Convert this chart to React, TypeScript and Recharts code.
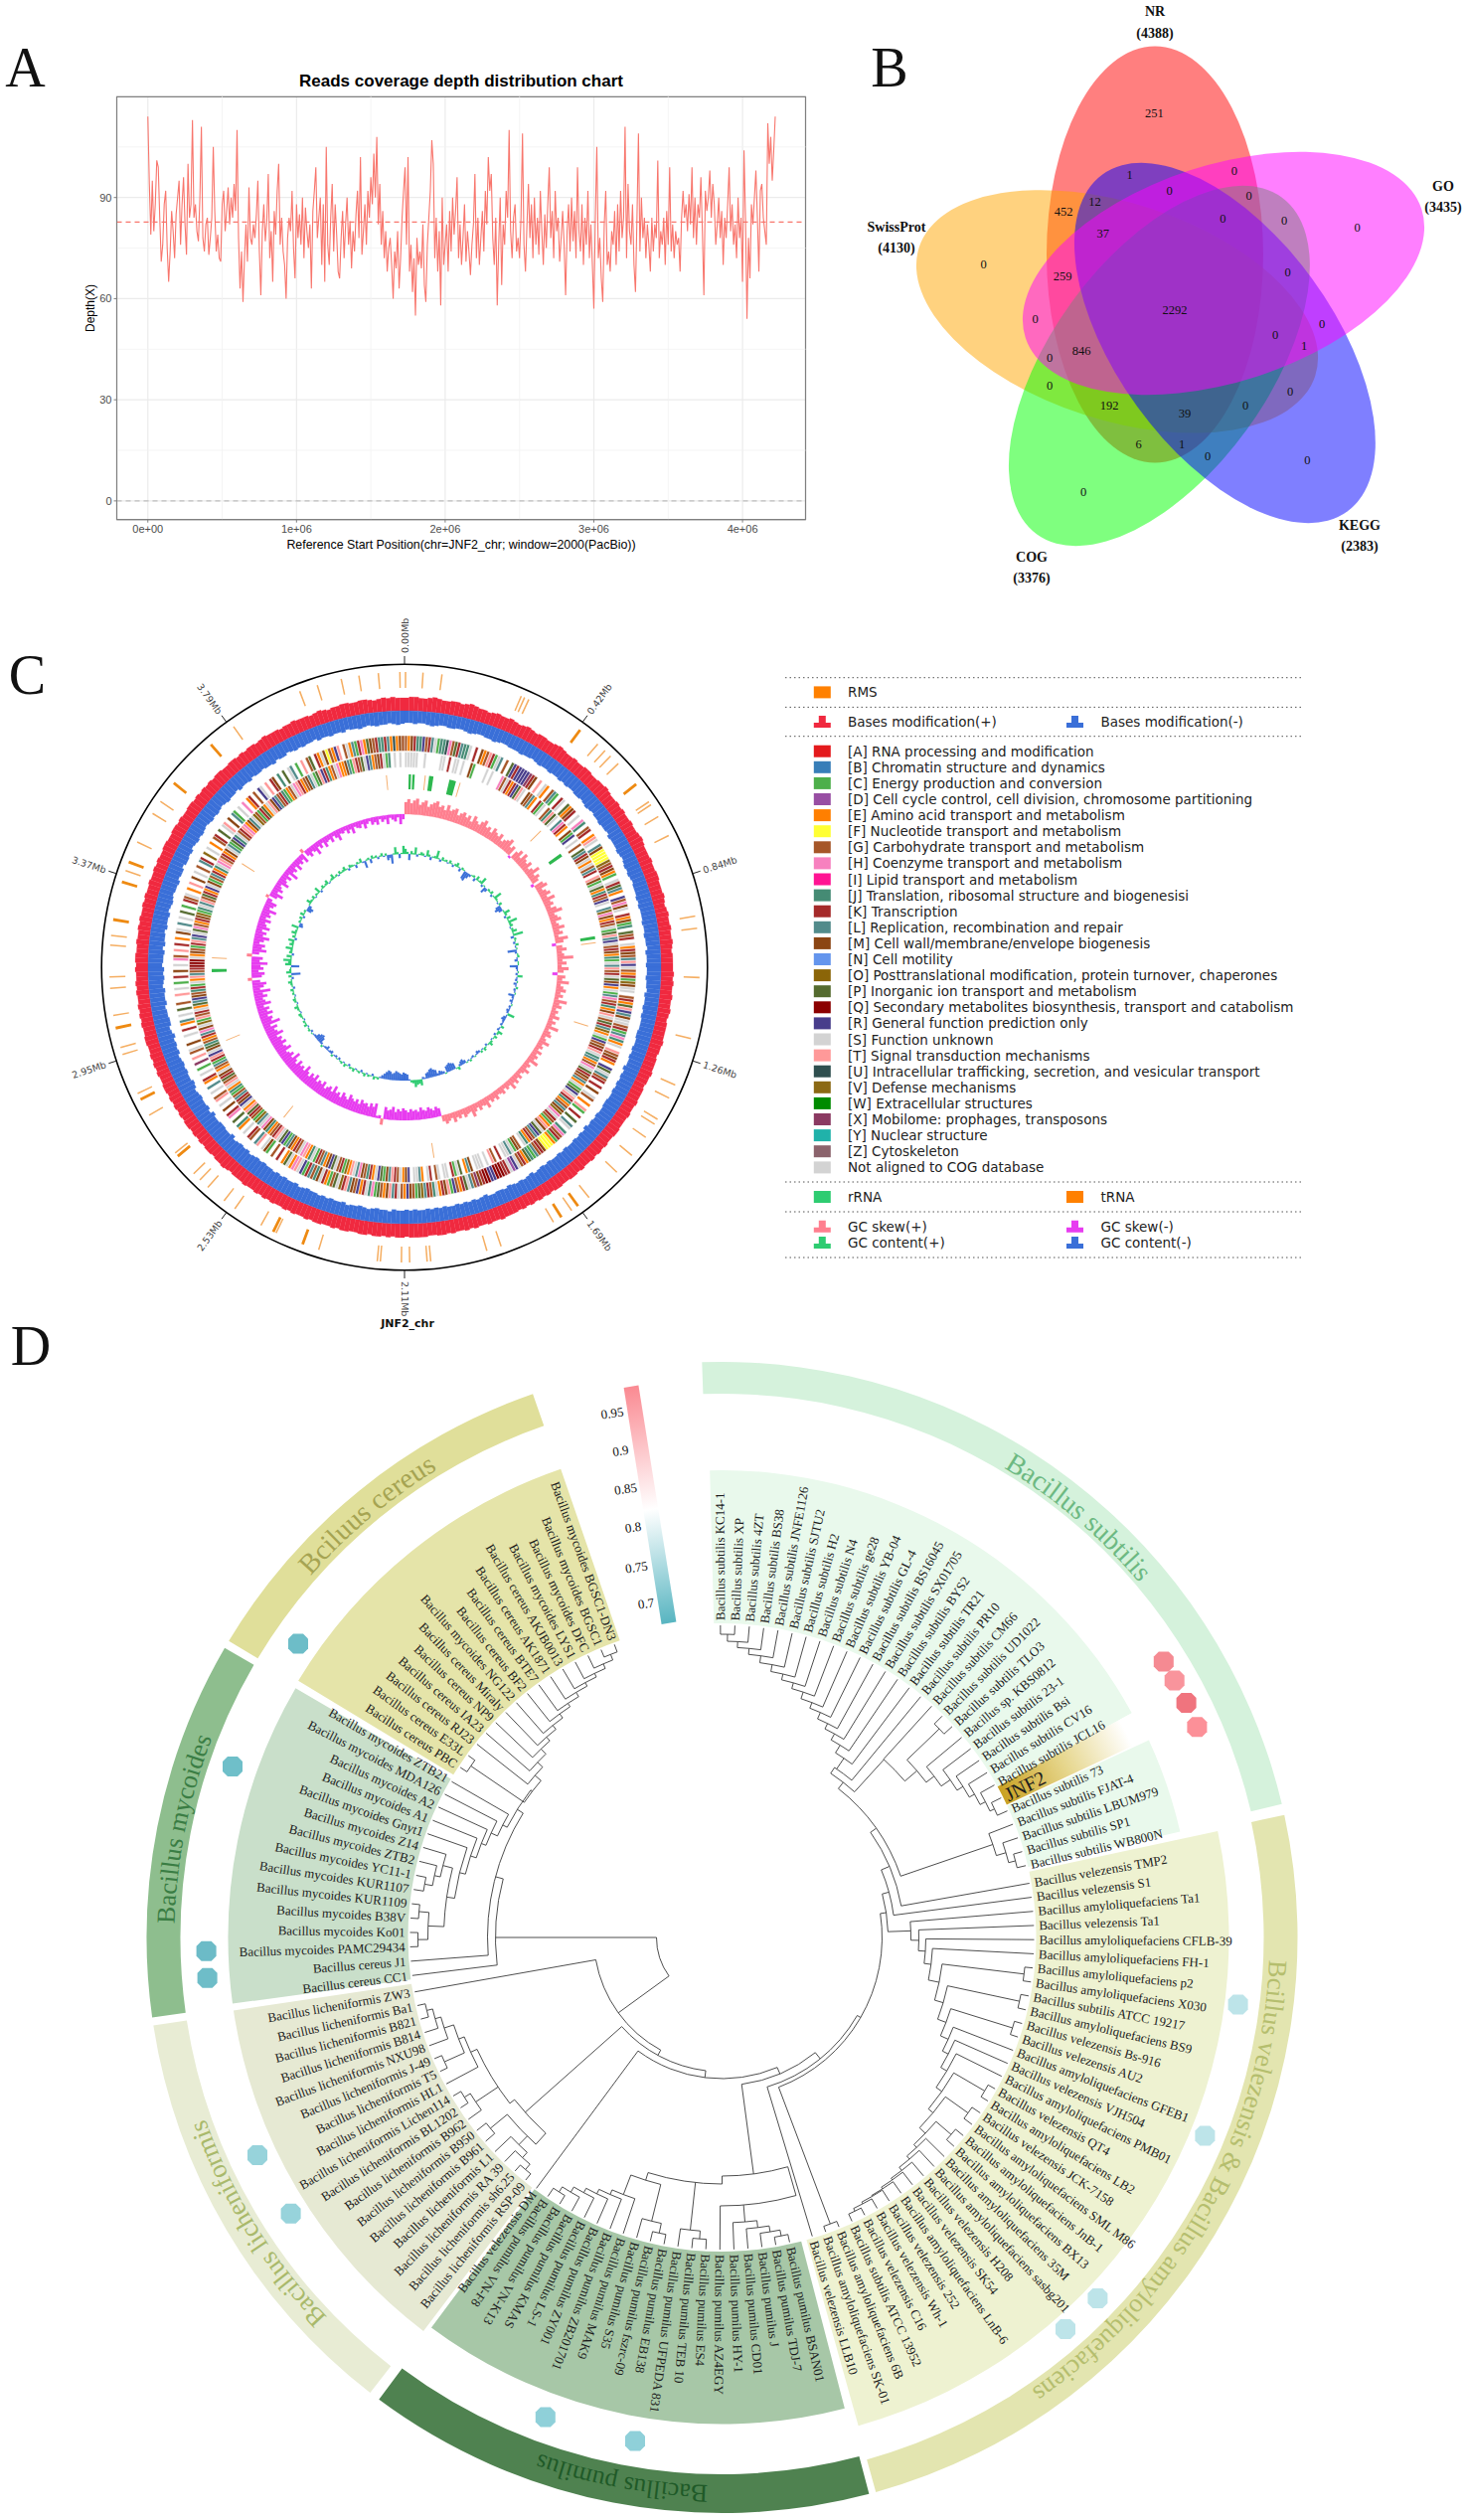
import React from "react";
import {
  CartesianGrid, Line, LineChart, Pie, PieChart, ReferenceArea, ReferenceLine,
  Scatter, ScatterChart, Sector, XAxis, YAxis,
} from "recharts";

const serif = "'Liberation Serif', serif";
const sans = "'Liberation Sans', sans-serif";
const dejavu = "'DejaVu Sans', sans-serif";

// ---------- panel A: depth per 10 kb window ----------
const windowSize = 10000;
const depth = [
  114,94,79,95,80,88,101,99,84,71, 76,88,92,75,65,74,86,80,72,85, 90,95,76,88,96,82,73,100,84,88, 113,84,88,80,77,90,111,78,74,82, 84,73,78,84,105,86,74,79,72,71,
  88,92,80,86,93,82,90,84,94,86, 110,78,63,74,59,72,82,71,93,78, 76,82,78,85,95,74,61,80,88,77, 83,97,72,80,65,86,79,92,100,76, 84,74,70,60,78,84,80,92,75,66,
  88,78,85,76,90,72,87,80,75,82, 63,86,92,99,78,84,90,70,88,65, 105,76,70,84,94,74,88,79,68,66, 78,86,72,82,90,76,83,69,80,74, 85,92,78,102,73,80,88,76,92,84,
  96,88,103,90,108,82,94,76,86,72, 80,68,75,78,70,60,74,69,80,63, 72,84,92,99,76,102,68,76,62,72, 55,78,70,74,69,82,64,59,76,84, 92,107,100,72,84,68,80,58,90,70,
  76,82,68,86,74,90,79,86,96,72, 82,70,78,88,71,80,74,67,76,82, 97,72,84,70,78,86,74,92,82,102, 92,97,78,70,84,58,76,90,64,82, 76,92,84,110,80,72,84,88,74,78,
  72,84,109,76,68,82,94,78,88,72, 90,76,84,73,92,80,70,85,75,88, 99,78,86,72,92,80,84,71,78,86, 76,61,80,88,74,90,77,86,72,99, 80,74,88,70,84,76,92,72,82,70,
  57,84,105,72,78,66,59,82,92,70, 74,68,80,76,86,70,88,74,92,78, 84,111,72,94,80,76,88,70,62,84, 109,74,90,78,84,72,82,76,68,84, 74,82,78,101,72,80,76,84,70,86,
  76,99,74,82,72,80,76,78,68,84, 92,84,88,80,91,82,99,78,90,76, 88,84,96,80,61,92,86,90,98,84, 94,88,76,82,90,78,86,70,84,78, 88,99,80,88,76,82,72,90,78,84,
  65,104,84,54,78,66,88,82,90,98, 84,68,92,94,84,80,76,112,100,108, 95,104,114,
];
const depthRows = depth.map((d, i) => ({ pos: i * windowSize, depth: d }));
const xTicks = [0, 1000000, 2000000, 3000000, 4000000];
const xTickNames = ["0e+00", "1e+06", "2e+06", "3e+06", "4e+06"];
const yTicks = [0, 30, 60, 90];
const xMinor = [500000, 1500000, 2500000, 3500000];
const yMinor = [15, 45, 75, 105];
const meanDepth = 82.7;

// ---------- panel B: five-set venn ----------
const vennNames = ["NR", "SwissProt", "COG", "KEGG", "GO"];
const vennTotals = [4388, 4130, 3376, 2383, 3435];
const vennColors = ["#FF0000", "#FFA500", "#00FF00", "#0000FF", "#FF00FF"];
const vennAngles = [0, -72, -144, 144, 72];
const vennCentres = [[1162, 256], [1124, 313.4], [1166.4, 368], [1232.4, 345], [1231, 275]];
const vennTitlePlaces = [[1162, 11.7], [902, 228], [1038, 560], [1368, 528], [1452, 187.5]];
const vennCounts = [251,1,0,0,0,12,452,37,0,0,0,0,259,0,2292,0,0,0,846,1,0,0,0,192,0,39,6,1,0,0,0];
const vennCountPlaces = [
  [1161.4,113.6],[1136.6,176.3],[1241.9,172],[1176.7,192.2],[1256.7,197.3],[1101.6,202.7],[1070.2,213.2],[1109.8,234.6],
  [1230.3,219.8],[1292.2,222.2],[1365.7,229.2],[989.7,265.8],[1069,278.2],[1295.5,274.3],[1182,311.7],[1041.7,321],
  [1330.2,325.7],[1283.2,337.4],[1088,352.9],[1312,348.2],[1056.2,360],[1056.2,388.3],[1298,394.2],[1116,407.8],
  [1253,408.2],[1192,416],[1145.7,447],[1189,447],[1215,458.8],[1315.3,463],[1090,495.3],
];

// ---------- panel C: genome circle, angles in degrees clockwise from 0.00Mb ----------
const mbTicks = ["0.00Mb","0.42Mb","0.84Mb","1.26Mb","1.69Mb","2.11Mb","2.53Mb","2.95Mb","3.37Mb","3.79Mb"];
const rmsAngles = [0.2,3.6,7.3,23.3,24,24.9,36.5,40.9,42.8,44.3,46.4,51.7,55.9,56.6,59.3,63.5,80,82.4,92,104,113.5,116.3,121,122.1,125.2,129.6,134,141.3,144,145.5,147.9,149.7,160.9,163.8,174.9,175.6,179,180.6,184.7,185.3,196.9,200.2,205.8,206.4,209.1,215.1,217.7,221.8,223.9,225.6,230.2,231,239.9,243.4,244.7,252.8,254.2,258.1,260.6,265.9,268.1,274.3,276.2,279.3,286.8,289.1,290.9,295.1,301.4,304.2,308.6,319,324.6,339.2,342.8,347.6,351.1,354.9,359.1];
const rmsBold = [36.5,51.7,56.1,144,147.9,200.2,206.4,230.2,243.4,258.1,279.3,286.8,290.9,308.6,319];
const rrnaAngles = [1.6,2.7,8,14.5,54.4,81.2,269];
const rrnaWidths = [0.7,0.7,1.3,2,1,0.9,0.9];
const trnaAngles = [6.2,16.8,45,82.7,107.8,171.2,218.8,247.7,272.8,302.5,354.6];

const basesPlus = [
  13,14,14,13,13,14,15,14,13,13,14,14,13,14,15,14,13,13,12,13,14,13,13,14,13,12,13,14,13,12,13,13,12,12,13,14,
  13,12,12,13,12,12,13,13,12,12,13,13,14,13,12,12,13,12,13,12,12,13,12,12,13,14,13,12,12,12,13,12,12,13,13,12,
  12,12,13,12,11,12,13,12,12,13,12,12,13,12,11,12,12,12,12,13,12,13,12,12,13,12,12,13,12,11,12,12,12,12,13,12,
  12,11,12,12,12,13,12,12,11,12,12,12,13,12,12,13,12,12,12,13,13,12,12,13,12,13,12,13,12,12,13,12,13,13,12,12,
  13,13,12,13,12,13,12,13,12,13,12,13,13,13,14,13,13,14,13,13,14,13,14,13,13,14,13,14,14,13,13,14,14,14,14,13,
  14,14,13,14,13,14,14,13,14,14,13,13,14,14,13,14,13,13,14,14,13,14,13,13,14,13,14,13,13,14,13,14,13,14,13,13,
  14,13,13,13,12,13,14,13,13,12,13,13,12,13,12,13,12,13,13,12,13,12,13,12,13,12,13,13,12,12,13,12,13,12,13,12,
  12,13,13,12,12,13,12,13,12,13,12,12,13,12,13,12,12,13,12,13,13,12,12,13,12,12,13,12,13,12,12,13,12,13,12,12,
  13,12,12,13,12,13,12,12,13,13,12,12,13,13,12,13,12,12,13,13,12,13,12,13,12,13,12,13,13,12,12,13,13,12,13,12,
  13,13,12,13,14,13,13,13,12,13,13,14,13,13,13,12,13,14,13,12,13,13,14,14,13,13,14,14,13,12,13,14,13,14,13,13,
];
const basesMinus = [
  12,12,13,12,12,13,14,13,12,12,13,13,12,12,13,14,13,12,12,13,13,14,13,12,12,13,13,13,14,13,13,12,13,14,13,13,
  14,13,13,14,13,14,13,13,14,14,13,14,15,14,13,14,14,15,14,14,13,15,14,14,14,15,14,13,14,15,14,15,14,13,14,14,
  14,15,14,15,14,14,14,15,14,14,15,14,14,13,15,14,14,15,14,14,15,14,14,13,15,14,14,15,14,15,14,14,14,15,15,14,
  14,15,14,15,14,14,16,14,15,14,15,14,15,14,14,15,15,14,14,15,14,15,14,16,14,15,14,15,14,14,15,14,15,14,14,15,
  14,15,14,13,15,14,13,14,13,14,15,13,14,14,13,13,15,14,13,14,13,14,13,14,13,13,14,13,14,13,14,13,13,14,13,14,
  13,13,14,12,13,13,14,13,12,13,14,13,13,12,14,13,13,14,13,14,13,14,14,15,14,13,15,14,14,15,14,15,14,15,15,16,
  15,16,15,14,16,15,16,15,14,17,15,15,16,16,15,15,17,14,16,15,15,16,15,14,16,17,15,15,16,15,16,15,14,16,15,16,
  15,17,15,14,16,16,15,15,14,16,15,15,16,14,15,16,15,16,14,15,15,16,14,16,15,15,14,16,15,15,16,14,15,16,15,14,
  15,15,16,14,15,15,13,15,15,14,15,13,14,15,14,15,14,13,14,15,14,15,14,13,14,15,14,14,13,15,14,14,15,13,14,14,
  13,14,14,15,13,14,14,12,13,14,13,14,13,13,12,14,13,13,14,13,13,14,12,13,13,14,13,12,13,14,13,13,12,13,14,13,
];
const gcSkew = [
  12,15,11,14,16,10,13,15,9,12,14,16,11,13,9,15,10,12,14,8,11,13,9,12,7,14,10,8,12,15,9,11,7,13,10,8,
  12,6,9,11,14,7,10,-2,8,12,6,13,9,7,11,5,8,14,6,10,7,-3,9,12,5,8,11,6,13,7,9,5,10,15,6,8,
  11,5,7,12,6,9,4,13,8,-4,6,10,5,7,16,5,9,4,11,6,-5,8,5,12,4,7,10,5,8,4,13,6,9,4,7,5,
  10,4,8,5,13,4,7,9,4,6,11,5,7,4,9,5,8,6,12,4,7,5,10,6,4,8,5,9,6,11,5,7,4,8,6,5,
  9,6,8,5,11,7,6,9,5,8,12,6,7,9,5,8,6,10,5,7,9,6,
  -8,-10,-7,-9,-11,-8,-9,-12,-8,-10,-9,-11,-8,-10,
  -12,-9,-11,-8,-13,-10,-9,-12,6,-3,-2,-14,-10,-13,-9,-12,-11,-14,-9,-13,-10,-12,-15,-9,-11,-14,-8,-12,-10,-16,-9,-13,-11,-8,-14,-10,
  -12,-9,-15,-10,-13,-8,-11,-16,-9,-12,-10,-14,-8,-11,-17,-9,-13,-10,-8,-15,-11,-9,-14,-10,-12,-8,-16,-11,-9,-13,-7,-18,-10,-12,-8,-14,
  -9,-12,-7,-15,-10,-8,-13,-9,-17,-7,-11,-14,-8,4,-10,-13,-7,-12,-9,-16,-8,-11,5,-7,-14,-9,-12,-6,-10,-15,-8,-11,-6,-13,-9,-7,
  -12,-6,-10,-8,-14,-6,-9,-11,-5,3,-8,-13,-6,-10,-7,-5,-12,-8,-6,-10,-5,-14,-7,-9,-5,-11,-6,-8,-5,-10,4,-6,-9,-5,-7,-12,
  -5,-8,-4,-10,-6,-5,-9,-4,-7,-11,-5,-6,-4,-8,-5,-10,-4,-6,-7,-4,-9,-5,-3,-7,-5,-8,-3,-6,-4,-9,-3,-5,-7,-3,-10,-5,
];
const gcContent = [
  5,2,-6,3,1,7,-2,1,3,2,-1,6,2,-3,1,2,8,1,-2,3,1,2,-1,3,1,-2,2,4,1,-3,2,1,-8,-9,-5,-2,
  1,2,-3,4,1,2,7,-2,1,-6,-3,2,1,3,-2,1,8,2,1,-1,3,-5,-7,-4,1,6,2,-2,4,1,9,2,3,-1,2,5,
  1,10,-3,2,1,-2,3,-1,1,-9,-2,1,2,-1,-3,1,1,-8,-2,-1,1,-2,5,-1,-2,1,-3,-1,2,-2,-1,1,-6,-2,-1,-3,
  -1,1,-2,-1,-3,-2,7,-1,-3,-4,-2,-1,-2,3,-1,-2,5,2,-2,3,1,-1,2,4,1,-2,1,3,-1,2,-2,-3,-1,1,-2,-1,
  2,-1,1,-3,-5,-4,-2,3,1,-6,-7,-8,-7,-6,1,-2,-3,-4,-2,-6,-7,-9,-8,-6,-5,-1,-2,6,4,5,7,3,2,-1,-6,-7,
  -8,-6,-7,-8,-9,-7,-6,-8,-9,-7,-5,-3,-1,2,1,3,-2,1,2,-1,3,1,-2,2,1,-1,3,1,2,-2,1,3,-1,2,1,-2,
  1,-2,-1,2,-3,-2,-1,-4,-2,-1,2,-2,-6,-8,-7,-5,-2,-1,1,-2,2,1,-1,3,1,2,-1,1,2,3,-1,1,2,4,1,-1,
  2,3,1,-1,2,1,3,-2,1,2,4,1,-2,3,-9,5,2,1,-8,6,3,8,1,5,-2,3,2,7,1,4,2,6,-2,3,1,5,
  2,1,7,-4,-3,2,1,3,-2,4,1,2,-5,-6,-3,1,5,2,1,3,-1,2,1,6,-2,1,3,1,2,4,-1,1,2,5,1,2,
  -1,3,1,2,4,1,-2,3,2,1,-3,2,1,4,-1,-7,1,2,-4,3,1,2,-2,1,3,-1,2,-5,-3,-9,1,7,2,-4,1,8,
];
// one letter per gene slot, "." = no gene on this strand
const cogForward =
  "GEMKJJRGKLSCJJUHGPKLJJS.K.MEGTKCSL.G.PRK" + "RRRRXKM.T.SE.GLC.KS.PEMK.S.HJ.GK.ETS.LMFF" +
  "FFVGKMEC.SKPLE.RGHMS.KEMCJ.PGK.SEKMGLTRS" + "GEKCVMSS.GKEPTRLMSSGKCLHJES.TGMKE.RPSLGK" +
  ".K.M.SG.E.TC.K.P.LS.JHGKCEFFFMKGLCJPEKGS" + "RDSKKQQQRRQQKMXGLSPKEGRCTMKESJGKLVPCGMRE" +
  "GSKLTMEGPCHJSKERGMLTKVSPGCEKSMJGLKCRSTHE" + "SPE.K.G.CMS.TL.GK.S.EJ.P.HK.M.S.TG.S.L.E" +
  "K.S.C.X.T.GS.M..S.K.EL.S.P.G..T.S.C.K.M." + "S.HG.T.K.E.MS.L.S.P.C.KGS.E.T.M.S.G.LK.V" +
  ".S.E.GK.P.ST.M.LC.S.H.EK.G.RS.T.KM.J.P.S" + "L.C.T.GP.KESMFGERT.GSELCKHEPMGKJJKLEUEMG";
const cogReverse =
  "SSSSS..S.....SS.K.SS.S..MC....S.S...HGSK" + "EKRPTS.MGLE.KCS.GJTPS.LHKE.MCR.S.G.PLKMS" +
  "ESGLK.TMCSPEJKGRS.LVHMEKGSCPTLRSGKMEJCSL" + "TGKSPMRESCLHGKJEMTSGPKLVESCRGMKTSJLEGHSP" +
  "KMGLESCPRSTKJEGLMVHSKGCETMSPRLGKEJS.GMCS" + "LSS.K.GT.S.SSS.MLE.PSCK.SS.SG.KS.ELSS.RM" +
  "ESGKTLMCPRSEKJGMHLSTEVCKGSPRMELGKCSJETHS" + "GKEMLCRPSTKGEJMHSLVCGKPTESRMKLGCJESTGPKM" +
  "SEGLCKTRSMPJGEKLHMSVCTGKSEPLRMGJKCSETLGK" + "QQQSEMGCKTLRSPHGEKMVCJSLTGPKERSMCGLKEJSH" +
  "TGKEMSLCPRJSGKTHEMLSVGCKPESTMRLGKJCEGSHT" + "KEGMLSCPTRKJEGSHEEMLCTKGPSRLEGMKSCJ.S.S.";

const cogLetters = "ABCDEFGHIJKLMNOPQRSTUVWXYZ".split("");
const cogColors = ["#E41A1C","#377EB8","#4DAF4A","#984EA3","#FF7F00","#FFFF33","#A65628","#F781BF","#FF1493","#458B74","#A52A2A","#528B8B","#8B4513","#6495ED","#8B6508","#556B2F","#8B0000","#483D8B","#D3D3D3","#FF9999","#2F4F4F","#8B6914","#008B00","#8B3A62","#20B2AA","#8B636C"];
const cogTerms = [
  "RNA processing and modification","Chromatin structure and dynamics","Energy production and conversion",
  "Cell cycle control, cell division, chromosome partitioning","Amino acid transport and metabolism",
  "Nucleotide transport and metabolism","Carbohydrate transport and metabolism","Coenzyme transport and metabolism",
  "Lipid transport and metabolism","Translation, ribosomal structure and biogenesisi","Transcription",
  "Replication, recombination and repair","Cell wall/membrane/envelope biogenesis","Cell motility",
  "Posttranslational modification, protein turnover, chaperones","Inorganic ion transport and metabolism",
  "Secondary metabolites biosynthesis, transport and catabolism","General function prediction only","Function unknown",
  "Signal transduction mechanisms","Intracellular trafficking, secretion, and vesicular transport","Defense mechanisms",
  "Extracellular structures","Mobilome: prophages, transposons","Nuclear structure","Cytoskeleton",
];

// ---------- panel D: phylogeny, leaves clockwise from the top ----------
const subtilisLeaves = ["Bacillus subtilis KC14-1","Bacillus subtilis XP","Bacillus subtilis 4ZT","Bacillus subtilis BS38","Bacillus subtilis JNFE1126","Bacillus subtilis SJTU2","Bacillus subtilis H2","Bacillus subtilis N4","Bacillus subtilis ge28","Bacillus subtilis YB-04","Bacillus subtilis GL-4","Bacillus subtilis BS16045","Bacillus subtilis SX01705","Bacillus subtilis BYS2","Bacillus subtilis TR21","Bacillus subtilis PR10","Bacillus subtilis CM66","Bacillus subtilis UD1022","Bacillus subtilis TLO3","Bacillus sp. KBS0812","Bacillus subtilis 23-1","Bacillus subtilis Bsi","Bacillus subtilis CV16","Bacillus subtilis JCL16","JNF2","Bacillus subtilis 73","Bacillus subtilis FJAT-4","Bacillus subtilis LBUM979","Bacillus subtilis SP1","Bacillus subtilis WB800N"];
const velezensisLeaves = ["Bacillus velezensis TMP2","Bacillus velezensis S1","Bacillus amyloliquefaciens Ta1","Bacillus velezensis Ta1","Bacillus amyloliquefaciens CFLB-39","Bacillus amyloliquefaciens FH-1","Bacillus amyloliquefaciens p2","Bacillus amyloliquefaciens X030","Bacillus subtilis ATCC 19217","Bacillus amyloliquefaciens BS9","Bacillus velezensis Bs-916","Bacillus velezensis AU2","Bacillus amyloliquefaciens GFEB1","Bacillus velezensis VJH504","Bacillus amyloliquefaciens PMB01","Bacillus velezensis QT4","Bacillus amyloliquefaciens LB2","Bacillus velezensis JCK-7158","Bacillus amyloliquefaciens SML M86","Bacillus amyloliquefaciens JnB-1","Bacillus amyloliquefaciens BX13","Bacillus amyloliquefaciens 35M","Bacillus amyloliquefaciens sasbg201","Bacillus velezensis H208","Bacillus velezensis SK54","Bacillus amyloliquefaciens LnB-6","Bacillus velezensis 252","Bacillus velezensis Wh-1","Bacillus velezensis C16","Bacillus subtilis ATCC 13952","Bacillus amyloliquefaciens 6B","Bacillus amyloliquefaciens SK-01","Bacillus velezensis LLB10"];
const pumilusLeaves = ["Bacillus pumilus BSAN01","Bacillus pumilus TDJ-7","Bacillus pumilus J","Bacillus pumilus CD01","Bacillus pumilus HY-1","Bacillus pumilus AZ4EGY","Bacillus pumilus ES4","Bacillus pumilus TEB 10","Bacillus pumilus UFPEDA 831","Bacillus pumilus EB138","Bacillus pumilus fszrc-09","Bacillus pumilus S35","Bacillus pumilus MAK9","Bacillus pumilus ZB201701","Bacillus pumilus ZY001","Bacillus pumilus LS-1","Bacillus pumilus KMAS","Bacillus pumilus VN-K13","Bacillus pumilus VN-F8","Bacillus velezensis DM"];
const licheniformisLeaves = ["Bacillus licheniformis RSP-09","Bacillus licheniformis sh6.25","Bacillus licheniformis RA 39","Bacillus licheniformis L1","Bacillus licheniformis B961","Bacillus licheniformis B950","Bacillus licheniformis B962","Bacillus licheniformis BL1202","Bacillus licheniformis Lichen114","Bacillus licheniformis HL1","Bacillus licheniformis T5","Bacillus licheniformis J-49","Bacillus licheniformis NXU98","Bacillus licheniformis B814","Bacillus licheniformis B821","Bacillus licheniformis Ba1","Bacillus licheniformis ZW3"];
const mycoidesLeaves = ["Bacillus cereus CC1","Bacillus cereus J1","Bacillus mycoides PAMC29434","Bacillus mycoides Ko01","Bacillus mycoides B38V","Bacillus mycoides KUR1109","Bacillus mycoides KUR1107","Bacillus mycoides YC11-1","Bacillus mycoides ZTB2","Bacillus mycoides Z14","Bacillus mycoides Gnyt1","Bacillus mycoides A1","Bacillus mycoides A2","Bacillus mycoides MDA126","Bacillus mycoides ZTB21"];
const cereusLeaves = ["Bacillus cereus PBC","Bacillus cereus E33L","Bacillus cereus RJ23","Bacillus cereus IA23","Bacillus cereus NP9","Bacillus cereus Miraly","Bacillus mycoides NG122","Bacillus cereus BF2","Bacillus cereus BTE7","Bacillus cereus AK1871","Bacillus cereus AKJB0013","Bacillus mycoides LYS1","Bacillus mycoides DFC","Bacillus mycoides BGSC1","Bacillus mycoides BGSC1-DN3"];
const leafGroups = [subtilisLeaves, velezensisLeaves, pumilusLeaves, licheniformisLeaves, mycoidesLeaves, cereusLeaves];
const leafFirstAngle = [-0.3, 80, 167.5, 219, 263, 303];
const leafStep = [2.655, 2.6, 2.58, 2.56, 2.64, 2.63];

const ringNames = ["Bacillus subtilis","Bcillus velezensis & Bacillus amyloliquefaciens","Bacillus pumilus","Bacillus licheniformis","Bacillus mycoides","Bciluus cereus"];
const ringStart = [-2, 77.7, 165.2, 217.7, 262, 301];
const ringEnd = [76.6, 164.5, 216.6, 261.2, 300.2, 340.8];
const ringLabelAngle = [40.3, 119, 190.5, 238.4, 281.4, 320];
const ringFontSize = [28, 26.5, 25.7, 26.6, 26, 28.5];
const ringColors = ["#D5F2DC","#E3E5B0","#4F8250","#E8ECD4","#8EBE8E","#E0DF9A"];
const ringTextColors = ["#6DB982","#B5BE6E","#1F5A28","#A9B96B","#3A7D44","#A6A452"];

// clades as first leaf, last leaf, node radius, and node angle where the drawing sets it off-centre
const clades = [
  [0,1,305],[0,2,298],[0,3,292],[0,4,286],[0,5,279],[0,6,272],[0,7,266],[0,8,260],[0,9,253],[0,10,247],[0,11,240],[0,12,234],[0,13,227],[0,14,218],[0,15,205,33.5],
  [24,25,303],[23,25,298],[22,25,292],[21,25,286],[20,25,279],[19,25,268],[17,18,303],[17,25,258],[16,25,242,42.3],[0,25,198,38],[28,29,305],[27,29,298],[26,29,288],
  [0,29,190,54.7],[0,30,183,67],[0,31,174,74.8],
  [58,59,306],[57,59,303],[56,59,301],[55,59,300],[54,59,298],[53,59,296],[52,59,292],[51,59,288],[49,50,304],[49,59,284],[47,48,304],[47,59,276],[45,46,306],[45,59,270],[44,59,263],[43,59,256],[42,59,249.5],[40,41,306],[40,59,241],[38,39,306],[38,59,232],[36,37,306],[36,59,223],[35,59,212],[34,59,205],[33,59,198],[32,59,190,88],
  [0,59,167,81.4],[60,61,308],[0,61,161,120],[0,62,157,141],
  [63,64,306],[63,65,300],[63,66,294],[63,67,287],[63,68,270,164],[69,70,304],[69,71,296],[72,73,304],[72,74,294],[80,81,304],[79,81,298],[78,81,292],[77,81,287],[76,81,282],[75,81,277],[72,81,256],[69,81,248,180],[63,81,240,172.4],
  [0,81,149,157],[0,82,142,187],
  [97,98,306],[96,98,300],[95,98,294],[93,94,306],[93,98,284],[92,98,278],[90,91,305],[89,91,298],[89,98,271,232],[83,84,306],[83,85,299],[83,86,292],[87,88,302],[83,88,280,222],[83,98,265,228.4],
  [0,98,135,208.6],[0,99,129,234],
  [102,103,306],[104,105,306],[102,105,296],[106,107,304],[106,108,296],[106,109,290],[102,109,280],[102,110,272],[102,111,266],[102,112,260],[102,113,255],[102,114,248],
  [115,116,306],[128,129,306],[127,129,300],[126,129,295],[125,129,291],[124,129,287],[123,129,282],[122,129,278],[121,129,273],[120,129,268],[119,129,263],[118,129,256],[117,129,249],[115,129,241],
  [102,129,243,302],[101,129,236,285],[100,129,228,270],[0,129,66],
];

const markerPlaces = [[1170.8,1671.4],[1181.7,1690.6],[1193.6,1713],[1204.4,1737.2],[300,1653.4],[234,1777],[207.6,1962.8],[208.6,1989.8],[259,2168],[292.6,2226.7],[548.8,2431.5],[639,2455.5],[1245.6,2016.4],[1212.4,2148.4],[1104.4,2312],[1072,2343]];
const markerColors = ["#F58A92","#F9949C","#F0747E","#FC9098","#6DBDC8","#6FBFC9","#6CBBC7","#6EBDC8","#97D3DB","#97D3DB","#8FD0D9","#8FD0D9","#BDE4E9","#BDE4E9","#BDE4E9","#BDE4E9"];
const scaleLabels = ["0.95","0.9","0.85","0.8","0.75","0.7"];
const scalePlaces = [[616,1421.5],[624.3,1459.4],[629.5,1497.7],[637,1536.3],[640.4,1576.5],[650,1613]];

// ---------- layout helpers ----------
const treeX = 726.5;
const treeY = 1949;
const polar = (deg: number, r: number) => {
  const a = (deg * Math.PI) / 180;
  return [treeX + r * Math.sin(a), treeY - r * Math.cos(a)];
};
const leafRows = leafGroups.flatMap((names, g) =>
  names.map((name, k) => ({ name, group: g, angle: leafFirstAngle[g] + k * leafStep[g] })));

// slices that put one entry at each listed angle, with empty slices between
const tickSlices = (angles: number[], widthOf: (i: number) => number, colorOf: (i: number) => string) => {
  const out: any[] = [];
  let at = 0;
  angles.forEach((a, i) => {
    const w = widthOf(i);
    out.push({ span: Math.max(a - w / 2 - at, 0.001), fill: "none" });
    out.push({ span: w, fill: colorOf(i) });
    at = a + w / 2;
  });
  out.push({ span: 360 - at, fill: "none" });
  return out;
};
const binSlices = (values: number[]) => values.map((h) => ({ span: 1, h }));
const cogSlices = (genes: string) => genes.split("").map((c) => ({
  span: 1,
  fill: c === "." ? "none" : cogColors[cogLetters.indexOf(c)],
}));

const HistogramBin = (base: number, up: string, down: string) => (props: any) => {
  const h = props.payload?.h ?? props.h;
  return (
    <Sector {...props} innerRadius={h >= 0 ? base : base + h} outerRadius={h >= 0 ? base + h : base}
      fill={h >= 0 ? up : down} stroke={h >= 0 ? up : down} strokeWidth={0.25} />
  );
};
const BandSector = (props: any) => {
  const p = props.payload ?? props;
  return <Sector {...props} innerRadius={p.inner} outerRadius={p.outer} fill={p.fill} stroke="none" />;
};

// tree branches: arc over the children, stems out to each child
const treeBranches = (() => {
  const key = (i: number, j: number) => `${i}-${j}`;
  const done = new Map<string, { angle: number; r: number }>();
  const ordered = [...clades].sort((a, b) => a[1] - a[0] - (b[1] - b[0]));
  return ordered.map(([i, j, r, fixed]) => {
    const kids: { angle: number; r: number }[] = [];
    let k = i;
    while (k <= j) {
      let found = -1;
      for (let e = j; e > k; e--) if (done.has(key(k, e))) { found = e; break; }
      if (found >= 0) { kids.push(done.get(key(k, found))!); k = found + 1; }
      else { kids.push({ angle: leafRows[k].angle, r: 314 }); k += 1; }
    }
    const angle = fixed ?? (kids[0].angle + kids[kids.length - 1].angle) / 2;
    const first = Math.min(kids[0].angle, angle);
    const last = Math.max(kids[kids.length - 1].angle, angle);
    done.set(key(i, j), { angle, r });
    const [ax, ay] = polar(first, r);
    const [bx, by] = polar(last, r);
    let d = `M${ax} ${ay}A${r} ${r} 0 ${last - first > 180 ? 1 : 0} 1 ${bx} ${by}`;
    kids.forEach((c) => {
      const [sx, sy] = polar(c.angle, r);
      const [tx, ty] = polar(c.angle, c.r);
      d += `M${sx} ${sy}L${tx} ${ty}`;
    });
    const [x, y] = polar(angle, r);
    return { x, y, d };
  });
})();

// ---------- small marks ----------
const TextMark = (props: any) => {
  const p = props.payload;
  return (
    <text x={props.cx} y={props.cy} textAnchor={p.anchor ?? "middle"} dominantBaseline="central"
      fontFamily={p.family ?? serif} fontSize={p.size} fontWeight={p.weight ?? "normal"} fill={p.color ?? "#111"}
      transform={p.rotate ? `rotate(${p.rotate} ${props.cx} ${props.cy})` : undefined}>
      {p.text}
    </text>
  );
};
const PetalMark = (props: any) => {
  const p = props.payload;
  return <ellipse cx={props.cx} cy={props.cy} rx={109} ry={209.5} fill={p.color} fillOpacity={0.5}
    transform={`rotate(${p.angle} ${props.cx} ${props.cy})`} />;
};
const BranchMark = (props: any) => <path d={props.payload.d} fill="none" stroke="#3a3a3a" strokeWidth={0.9} />;
const OctagonMark = (props: any) => {
  const { cx, cy } = props;
  const a = 10; const b = 5;
  const pts = [[-b,-a],[b,-a],[a,-b],[a,b],[b,a],[-b,a],[-a,b],[-a,-b]].map(([x, y]) => `${cx + x},${cy + y}`).join(" ");
  return <polygon points={pts} fill={props.payload.color} />;
};
const SwatchMark = (props: any) => {
  const { cx, cy } = props;
  const p = props.payload;
  if (p.kind === "steps") {
    return <path d={`M${cx - 8.5} ${cy + 6}v-5h5v-3h0v-4h7v4h0v3h5v5z`} fill={p.color} />;
  }
  return <rect x={cx - 8.5} y={cy - 6} width={17} height={12} fill={p.color} />;
};
const RingTextMark = (props: any) => {
  const p = props.payload;
  const r = 551;
  const half = p.sweep / 2;
  const [ax, ay] = polar(p.angle - half, r);
  const [bx, by] = polar(p.angle + half, r);
  const id = `ring-arc-${p.index}`;
  return (
    <g>
      <path id={id} d={`M${ax} ${ay}A${r} ${r} 0 0 1 ${bx} ${by}`} fill="none" />
      <text fontFamily={serif} fontSize={p.size} fill={p.color} textAnchor="middle">
        <textPath href={`#${id}`} startOffset="50%">{p.text}</textPath>
      </text>
    </g>
  );
};
const ScaleBarMark = (props: any) => {
  const { cx, cy } = props;
  return (
    <g transform={`rotate(-9.07 ${cx} ${cy})`}>
      <defs>
        <linearGradient id="identity-scale" x1="0" y1="0" x2="0" y2="1">
          <stop offset="0" stopColor="#FA8A92" />
          <stop offset="0.52" stopColor="#FFFFFF" />
          <stop offset="1" stopColor="#58B5C1" />
        </linearGradient>
      </defs>
      <rect x={cx - 7.5} y={cy - 120.5} width={15} height={241} fill="url(#identity-scale)" />
    </g>
  );
};

// ---------- overlay rows ----------
const petalRows = vennNames.map((name, i) => ({ x: vennCentres[i][0], y: vennCentres[i][1], name, color: vennColors[i], angle: vennAngles[i] }));
const vennTitleRows = vennNames.flatMap((name, i) => [
  { x: vennTitlePlaces[i][0], y: vennTitlePlaces[i][1], text: name, size: 14, weight: "bold" },
  { x: vennTitlePlaces[i][0], y: vennTitlePlaces[i][1] + 21.4, text: `(${vennTotals[i]})`, size: 14, weight: "bold" },
]);
const vennCountRows = vennCounts.map((n, i) => ({ x: vennCountPlaces[i][0], y: vennCountPlaces[i][1], text: String(n), size: 12.5 }));
const letterRows = [
  { x: 25.5, y: 68, text: "A", size: 56 }, { x: 895, y: 68, text: "B", size: 56 },
  { x: 27.5, y: 679, text: "C", size: 56 }, { x: 31, y: 1354, text: "D", size: 56 },
];
const axisNoteRows = [
  { x: 410, y: 1331, text: "JNF2_chr", size: 11, weight: "bold", family: dejavu },
];

const legendLeft = 827.3;
const legendRight = 1081.5;
const legendTextLeft = 853;
const legendTextRight = 1107.5;
const legendRows = [
  { col: 0, y: 696.4, text: "RMS", color: "#FF8000", kind: "box" },
  { col: 0, y: 726, text: "Bases modification(+)", color: "#F0293F", kind: "steps" },
  { col: 1, y: 726, text: "Bases modification(-)", color: "#3A6FD8", kind: "steps" },
  ...cogLetters.map((c, i) => ({ col: 0, y: 755.7 + i * 16.1, text: `[${c}] ${cogTerms[i]}`, color: cogColors[i], kind: "box" })),
  { col: 0, y: 1174.4, text: "Not aligned to COG database", color: "#D3D3D3", kind: "box" },
  { col: 0, y: 1204, text: "rRNA", color: "#2ECC71", kind: "box" },
  { col: 1, y: 1204, text: "tRNA", color: "#FF8000", kind: "box" },
  { col: 0, y: 1233.7, text: "GC skew(+)", color: "#FF7F8F", kind: "steps" },
  { col: 1, y: 1233.7, text: "GC skew(-)", color: "#E73CF0", kind: "steps" },
  { col: 0, y: 1250, text: "GC content(+)", color: "#2ECC71", kind: "steps" },
  { col: 1, y: 1250, text: "GC content(-)", color: "#3A6FD8", kind: "steps" },
];
const legendRules = [681.7, 711.4, 740.7, 1189, 1219, 1265];
const legendSwatchRows = legendRows.map((r) => ({ x: r.col ? legendRight : legendLeft, y: r.y, color: r.color, kind: r.kind }));
const legendTextRows = legendRows.map((r) => ({
  x: r.col ? legendTextRight : legendTextLeft, y: r.y, text: r.text, size: 13.5, family: dejavu, anchor: "start", color: "#222",
}));

const ringTextRows = ringNames.map((text, i) => {
  const [x, y] = polar(ringLabelAngle[i], 551);
  return { x, y, text, index: i, angle: ringLabelAngle[i], sweep: i === 1 ? 100 : 70, color: ringTextColors[i], size: ringFontSize[i] };
});
const markerRows = markerPlaces.map(([x, y], i) => ({ x, y, color: markerColors[i] }));
const scaleTextRows = scaleLabels.map((text, i) => ({ x: scalePlaces[i][0], y: scalePlaces[i][1], text, size: 13, rotate: -8 }));

// ---------- panel A ----------
const CoverageChart = () => (
  <div style={{ position: "absolute", left: 0, top: 60 }}>
    <LineChart width={830} height={510} data={depthRows} margin={{ top: 37.3, right: 19.5, left: 57.5, bottom: 7.3 }}>
      <CartesianGrid stroke="#EBEBEB" strokeWidth={1.2} />
      {xMinor.map((v) => <ReferenceLine key={v} x={v} stroke="#F2F2F2" strokeWidth={0.8} />)}
      {yMinor.map((v) => <ReferenceLine key={v} y={v} stroke="#F2F2F2" strokeWidth={0.8} />)}
      <XAxis type="number" dataKey="pos" domain={[-209000, 4424000]} ticks={xTicks} height={40}
        tickFormatter={(v) => xTickNames[xTicks.indexOf(v)]} tick={{ fill: "#4D4D4D", fontSize: 11, fontFamily: sans }}
        tickLine={{ stroke: "#7f7f7f" }} tickSize={3} axisLine={{ stroke: "#7f7f7f" }}
        label={{ value: "Reference Start Position(chr=JNF2_chr; window=2000(PacBio))", position: "insideBottom", offset: 11, fill: "#000", fontSize: 12.4, fontFamily: sans }} />
      <YAxis type="number" domain={[-5.55, 119.9]} ticks={yTicks} width={60} allowDataOverflow
        tick={{ fill: "#4D4D4D", fontSize: 11, fontFamily: sans }} tickLine={{ stroke: "#7f7f7f" }} tickSize={3} axisLine={{ stroke: "#7f7f7f" }}
        label={{ value: "Depth(X)", angle: -90, position: "insideLeft", offset: 33, fill: "#000", fontSize: 12, fontFamily: sans, style: { textAnchor: "middle" } }} />
      <ReferenceArea x1={-209000} x2={4424000} y1={-5.55} y2={119.9} fill="none" stroke="#7f7f7f" strokeWidth={1.2} />
      <Line type="linear" dataKey="depth" stroke="#F8766D" strokeWidth={1.1} dot={false} isAnimationActive={false} />
      <ReferenceLine y={meanDepth} stroke="#F8766D" strokeWidth={1.3} strokeDasharray="5 4" />
      <ReferenceLine y={0} stroke="#BDBDBD" strokeWidth={1.1} strokeDasharray="5 4" />
      <text x={464} y={21} textAnchor="middle" dominantBaseline="central" fontFamily={sans} fontWeight="bold" fontSize={17} fill="#000">
        Reads coverage depth distribution chart
      </text>
    </LineChart>
  </div>
);

// ---------- panel C ----------
const circleSize = 770;
const circleX = 385;
const circleY = 385;
const ringProps = { cx: circleX, cy: circleY, startAngle: 90, endAngle: -270, dataKey: "span", stroke: "none", isAnimationActive: false, paddingAngle: 0 };

const mbTickLabel = (props: any) => {
  const deg = (90 - props.midAngle + 360) % 360;
  const at = (r: number) => {
    const a = (deg * Math.PI) / 180;
    return [circleX + r * Math.sin(a), circleY - r * Math.cos(a)];
  };
  const [x1, y1] = at(305);
  const [x2, y2] = at(313);
  const [tx, ty] = at(316);
  const leftSide = deg > 200;
  return (
    <g>
      <line x1={x1} y1={y1} x2={x2} y2={y2} stroke="#222" strokeWidth={1} />
      <text x={tx} y={ty} fontFamily={dejavu} fontSize={9.5} fill="#444" dominantBaseline="central"
        textAnchor={leftSide ? "end" : "start"} transform={`rotate(${leftSide ? deg - 270 : deg - 90} ${tx} ${ty})`}>
        {props.payload.name}
      </text>
    </g>
  );
};

const GenomeCircle = () => (
  <div style={{ position: "absolute", left: 406.7 - circleX, top: 973 - circleY }}>
    <PieChart width={circleSize} height={circleSize} margin={{ top: 0, right: 0, bottom: 0, left: 0 }}>
      <Pie {...ringProps} data={[{ span: 1, fill: "#000" }]} innerRadius={304} outerRadius={305.6} />
      <Pie {...ringProps} data={mbTicks.map((name) => ({ name, span: 36, fill: "none" }))} startAngle={108} endAngle={-252}
        innerRadius={304} outerRadius={305} label={mbTickLabel} labelLine={false} />
      <Pie {...ringProps} innerRadius={281} outerRadius={297}
        data={tickSlices(rmsAngles, (i) => (rmsBold.includes(rmsAngles[i]) ? 0.55 : 0.3), (i) => (rmsBold.includes(rmsAngles[i]) ? "#EE8A12" : "#F5AE62"))} />
      <Pie {...ringProps} data={binSlices(basesPlus)} innerRadius={258} outerRadius={270} shape={HistogramBin(258, "#F0293F", "#F0293F")} />
      <Pie {...ringProps} data={binSlices(basesMinus.map((v) => -v))} innerRadius={245} outerRadius={258} shape={HistogramBin(258, "#3A6FD8", "#3A6FD8")} />
      <Pie {...ringProps} data={cogSlices(cogForward)} innerRadius={217.5} outerRadius={233} stroke="#fff" strokeWidth={0.5} />
      <Pie {...ringProps} data={cogSlices(cogReverse)} innerRadius={201} outerRadius={216.5} stroke="#fff" strokeWidth={0.5} />
      <Pie {...ringProps} innerRadius={179} outerRadius={194} data={tickSlices(trnaAngles, () => 0.3, () => "#F5B070")} />
      <Pie {...ringProps} innerRadius={179} outerRadius={194} data={tickSlices(rrnaAngles, (i) => rrnaWidths[i], () => "#2EB84F")} />
      <Pie {...ringProps} data={binSlices(gcSkew)} innerRadius={140} outerRadius={170} shape={HistogramBin(154, "#FF7F8F", "#E73CF0")} />
      <Pie {...ringProps} data={binSlices(gcContent)} innerRadius={105} outerRadius={125} shape={HistogramBin(114, "#2ECC71", "#3A6FD8")} />
    </PieChart>
  </div>
);

// ---------- panel D ----------
const treeLeft = 100;
const treeTop = 1340;
const treeProps = { cx: treeX - treeLeft, cy: treeY - treeTop, dataKey: "span", stroke: "none", isAnimationActive: false, paddingAngle: 0 };

// slices between given start and end angles, closing the circle with empty slices
const bandSlices = (starts: number[], ends: number[], extra: (i: number) => any) => {
  const out: any[] = [];
  let at = starts[0];
  starts.forEach((s, i) => {
    if (s > at) out.push({ span: s - at, fill: "none", inner: 0, outer: 0 });
    out.push({ span: ends[i] - s, ...extra(i) });
    at = ends[i];
  });
  out.push({ span: starts[0] + 360 - at, fill: "none", inner: 0, outer: 0 });
  return out;
};
const ringBands = bandSlices(ringStart, ringEnd, (i) => ({ fill: ringColors[i], inner: i === 2 ? 540 : i === 0 ? 547 : 545, outer: 579 }));
const leafBandStart = [-1.5, 61.3, 65.2, 77.9, 165.4, 217.2, 262.3, 301.2];
const leafBandEnd = [61.3, 65.0, 77, 164.4, 216.7, 261.5, 300.3, 341];
const leafBandOuter = [470, 470, 473, 510, 489.5, 497, 497, 498.5];
const leafBandFill = ["#E9F9EC", "url(#jnf2-fade)", "#E9F9EC", "#EEF2D1", "#A7C7A7", "#E6E9D3", "#C9DFCA", "#E5E4A9"];
const leafBands = bandSlices(leafBandStart, leafBandEnd, (i) => ({ fill: leafBandFill[i], inner: 316, outer: leafBandOuter[i] }));

const leafSlices = (() => {
  const out: any[] = [];
  let at = leafRows[0].angle - leafStep[0] / 2;
  const first = at;
  leafRows.forEach((leaf) => {
    const half = leafStep[leaf.group] / 2;
    if (leaf.angle - half > at) out.push({ span: leaf.angle - half - at, name: "" });
    out.push({ span: leaf.angle + half - Math.max(at, leaf.angle - half), name: leaf.name, group: leaf.group });
    at = leaf.angle + half;
  });
  out.push({ span: first + 360 - at, name: "" });
  return out;
})();

const leafLabel = (props: any) => {
  const p = props.payload;
  if (!p?.name) return <g />;
  const deg = (90 - props.midAngle + 720) % 360;
  const inward = p.group >= 3 || p.name === "Bacillus velezensis DM";
  const isJnf = p.name === "JNF2";
  const a = (deg * Math.PI) / 180;
  const r = 319;
  const x = treeX - treeLeft + r * Math.sin(a);
  const y = treeY - treeTop - r * Math.cos(a);
  return (
    <text x={x} y={y} fontFamily={serif} fontSize={isJnf ? 20 : 13} fill="#1c1c1c" dominantBaseline="central"
      textAnchor={inward ? "end" : "start"} transform={`rotate(${inward ? deg - 270 : deg - 90} ${x} ${y})`}>
      {p.name}
    </text>
  );
};

const PhylogenyBands = () => (
  <div style={{ position: "absolute", left: treeLeft, top: treeTop }}>
    <PieChart width={1240} height={1195} margin={{ top: 0, right: 0, bottom: 0, left: 0 }}>
      <defs>
        <radialGradient id="jnf2-fade" gradientUnits="userSpaceOnUse" cx={treeX - treeLeft} cy={treeY - treeTop} r={470}>
          <stop offset="0.67" stopColor="#C9A020" />
          <stop offset="0.82" stopColor="#E6D68C" />
          <stop offset="0.97" stopColor="#FFFFFF" />
        </radialGradient>
      </defs>
      <Pie {...treeProps} data={ringBands} startAngle={90 - ringStart[0]} endAngle={90 - ringStart[0] - 360}
        innerRadius={540} outerRadius={579} shape={BandSector} />
      <Pie {...treeProps} data={leafBands} startAngle={90 - leafBandStart[0]} endAngle={90 - leafBandStart[0] - 360}
        innerRadius={316} outerRadius={510} shape={BandSector} />
      <Pie {...treeProps} data={leafSlices} startAngle={90 - (leafRows[0].angle - leafStep[0] / 2)} endAngle={90 - (leafRows[0].angle - leafStep[0] / 2) - 360}
        innerRadius={316} outerRadius={318} fill="none" label={leafLabel} labelLine={false} />
    </PieChart>
  </div>
);

// whole-page chart whose axes run in page pixels, for free-standing marks
const PageOverlay = () => (
  <div style={{ position: "absolute", left: 0, top: 0 }}>
    <ScatterChart width={1477} height={2535} margin={{ top: 0, right: 0, bottom: 0, left: 0 }}>
      <XAxis type="number" dataKey="x" domain={[0, 1477]} hide />
      <YAxis type="number" dataKey="y" domain={[0, 2535]} reversed hide />
      <Scatter data={petalRows} shape={PetalMark} isAnimationActive={false} />
      <Scatter data={vennTitleRows} shape={TextMark} isAnimationActive={false} />
      <Scatter data={vennCountRows} shape={TextMark} isAnimationActive={false} />
      <Scatter data={letterRows} shape={TextMark} isAnimationActive={false} />
      <Scatter data={axisNoteRows} shape={TextMark} isAnimationActive={false} />
      {legendRules.map((y) => (
        <ReferenceLine key={y} segment={[{ x: 790, y }, { x: 1311, y }]} stroke="#555" strokeDasharray="1.5 3" />
      ))}
      <Scatter data={legendSwatchRows} shape={SwatchMark} isAnimationActive={false} />
      <Scatter data={legendTextRows} shape={TextMark} isAnimationActive={false} />
      <Scatter data={treeBranches} shape={BranchMark} isAnimationActive={false} />
      <Scatter data={ringTextRows} shape={RingTextMark} isAnimationActive={false} />
      <Scatter data={markerRows} shape={OctagonMark} isAnimationActive={false} />
      <Scatter data={[{ x: 654, y: 1513.7 }]} shape={ScaleBarMark} isAnimationActive={false} />
      <Scatter data={scaleTextRows} shape={TextMark} isAnimationActive={false} />
    </ScatterChart>
  </div>
);

export default function App() {
  return (
    <div style={{ position: "absolute", left: 0, top: 0, width: 1477, height: 2535, background: "#fff", overflow: "hidden" }}>
      <CoverageChart />
      <GenomeCircle />
      <PhylogenyBands />
      <PageOverlay />
    </div>
  );
}
